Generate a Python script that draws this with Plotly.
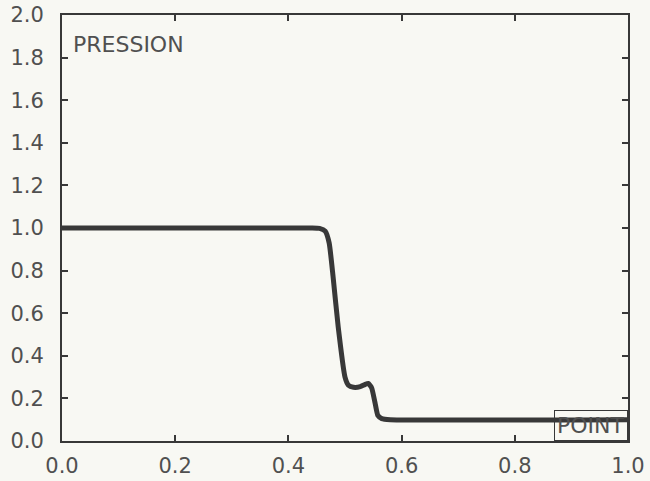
import plotly.graph_objects as go

# pressure profile
point = [0.0, 0.44, 0.455, 0.465, 0.472, 0.479, 0.488, 0.500, 0.506, 0.515,
         0.527, 0.535, 0.541, 0.547, 0.553, 0.558, 0.565, 0.58, 1.0]
pression = [1.0, 1.0, 0.998, 0.985, 0.93, 0.77, 0.535, 0.30, 0.262, 0.252,
            0.255, 0.265, 0.27, 0.25, 0.18, 0.12, 0.105, 0.1, 0.1]

x_ticks = [0.0, 0.2, 0.4, 0.6, 0.8, 1.0]
y_ticks = [0.0, 0.2, 0.4, 0.6, 0.8, 1.0, 1.2, 1.4, 1.6, 1.8, 2.0]

ink = "#383838"
label_ink = "#505050"
paper = "#f8f8f3"

fig = go.Figure()
fig.add_trace(go.Scatter(
    x=point,
    y=pression,
    mode="lines",
    line=dict(color=ink, width=5, shape="spline", smoothing=0.5),
    showlegend=False,
    hoverinfo="skip",
))

axis_common = dict(
    showgrid=False,
    zeroline=False,
    showline=True,
    linecolor=ink,
    linewidth=2,
    mirror="ticks",
    ticks="inside",
    ticklen=6,
    tickwidth=1.5,
    tickcolor=ink,
    tickfont=dict(family="DejaVu Sans", size=21, color=label_ink),
    tickformat=".1f",
    automargin=False,
)

fig.update_layout(
    width=650,
    height=481,
    paper_bgcolor=paper,
    plot_bgcolor=paper,
    margin=dict(l=62, r=22, t=15, b=40),
    xaxis=dict(range=[0, 1], tickvals=x_ticks, ticklabelstandoff=5, **axis_common),
    yaxis=dict(range=[0, 2], tickvals=y_ticks, ticklabelstandoff=12, **axis_common),
    annotations=[
        dict(text="PRESSION", x=0.016, y=0.965, xref="paper", yref="paper",
             xanchor="left", yanchor="top", showarrow=False,
             font=dict(family="DejaVu Sans", size=22, color=label_ink)),
        dict(text="POINT", x=1.0, y=0.0, xref="paper", yref="paper",
             xanchor="right", yanchor="bottom", showarrow=False,
             bordercolor=ink, borderwidth=1, borderpad=2,
             font=dict(family="DejaVu Sans", size=22, color=label_ink)),
    ],
)

fig.write_html("out.html", config={"displayModeBar": False},
               post_script="document.body.style.margin='0';")
